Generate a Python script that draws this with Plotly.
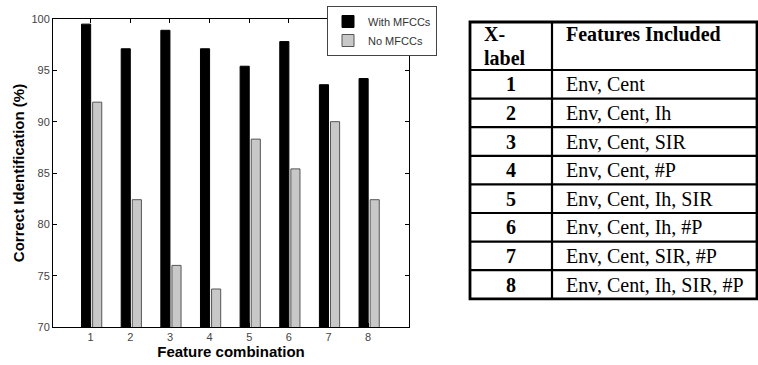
import plotly.graph_objects as go

# ---- data ----
combos = [1, 2, 3, 4, 5, 6, 7, 8]
with_mfcc = [99.5, 97.1, 98.9, 97.1, 95.4, 97.8, 93.6, 94.2]
no_mfcc = [91.9, 82.4, 76.0, 73.7, 88.3, 85.4, 90.0, 82.4]
series_names = ["With MFCCs", "No MFCCs"]

table_header = ["X-", "label", "Features Included"]
table_labels = ["1", "2", "3", "4", "5", "6", "7", "8"]
table_features = [
    "Env, Cent",
    "Env, Cent, Ih",
    "Env, Cent, SIR",
    "Env, Cent, #P",
    "Env, Cent, Ih, SIR",
    "Env, Cent, Ih, #P",
    "Env, Cent, SIR, #P",
    "Env, Cent, Ih, SIR, #P",
]

W, H = 758, 365

fig = go.Figure()
fig.add_trace(go.Bar(
    x=combos, y=with_mfcc, name=series_names[0],
    offset=-0.23, width=0.23,
    marker=dict(color="black", line=dict(color="black", width=1)),
))
fig.add_trace(go.Bar(
    x=combos, y=no_mfcc, name=series_names[1],
    offset=0.05, width=0.23,
    marker=dict(color="#c8c8c8", line=dict(color="#555555", width=1)),
))

# ---- table (drawn with paper-space shapes and text) ----
def px(x):
    return x / W

def py(y):
    return 1 - y / H

T_LEFT, T_RIGHT, T_DIV = 470, 757, 552
T_TOP, HDR_BOT, ROW_H = 22, 70, 28.6
T_BOT = HDR_BOT + ROW_H * len(table_labels)
LW = 2.2
shapes = []
shapes.append(dict(type="rect", xref="paper", yref="paper",
                   x0=px(T_LEFT), x1=px(T_RIGHT), y0=py(T_BOT), y1=py(T_TOP),
                   line=dict(color="black", width=LW + 0.6)))
shapes.append(dict(type="line", xref="paper", yref="paper",
                   x0=px(T_DIV), x1=px(T_DIV), y0=py(T_BOT), y1=py(T_TOP),
                   line=dict(color="black", width=LW)))
for i in range(len(table_labels)):
    yl = HDR_BOT + ROW_H * i
    shapes.append(dict(type="line", xref="paper", yref="paper",
                       x0=px(T_LEFT), x1=px(T_RIGHT), y0=py(yl), y1=py(yl),
                       line=dict(color="black", width=LW)))

TFS = 20
tfont_b = dict(family="Liberation Serif", size=TFS, color="black")
annotations = []
annotations.append(dict(text="<b>" + table_header[0] + "</b>", xref="paper", yref="paper",
                        x=px(T_LEFT + 12), y=py(34), xanchor="left", yanchor="middle",
                        showarrow=False, font=tfont_b))
annotations.append(dict(text="<b>" + table_header[1] + "</b>", xref="paper", yref="paper",
                        x=px(T_LEFT + 12), y=py(58), xanchor="left", yanchor="middle",
                        showarrow=False, font=tfont_b))
annotations.append(dict(text="<b>" + table_header[2] + "</b>", xref="paper", yref="paper",
                        x=px(T_DIV + 12), y=py(34), xanchor="left", yanchor="middle",
                        showarrow=False, font=tfont_b))
for i, (lab, feat) in enumerate(zip(table_labels, table_features)):
    yc = HDR_BOT + ROW_H * (i + 0.5)
    annotations.append(dict(text="<b>" + lab + "</b>", xref="paper", yref="paper",
                            x=px((T_LEFT + T_DIV) / 2), y=py(yc), xanchor="center", yanchor="middle",
                            showarrow=False, font=tfont_b))
    annotations.append(dict(text=feat, xref="paper", yref="paper",
                            x=px(T_DIV + 12), y=py(yc), xanchor="left", yanchor="middle",
                            showarrow=False, font=dict(family="Liberation Serif", size=TFS, color="black")))

axis_common = dict(
    showline=True, linecolor="black", linewidth=1, mirror="ticks",
    ticks="inside", ticklen=4, tickcolor="black",
    showgrid=False, zeroline=False, automargin=False,
    tickfont=dict(family="Arial", size=11, color="#444444"),
)

fig.update_layout(
    width=W, height=H,
    margin=dict(l=0, r=0, t=0, b=0, autoexpand=False),
    paper_bgcolor="white", plot_bgcolor="white",
    showlegend=True,
    barmode="overlay",
    shapes=shapes,
    annotations=annotations,
    xaxis=dict(
        domain=[53 / W, 409 / W], range=[0.05, 9.03],
        tickmode="array", tickvals=combos, ticktext=[str(c) for c in combos],
        title=dict(text="<b>Feature combination</b>", standoff=4,
                   font=dict(family="Arial", size=15, color="black")),
        **axis_common,
    ),
    yaxis=dict(
        domain=[1 - 327 / H, 1 - 19 / H], range=[70, 100],
        tickmode="array", tickvals=[70, 75, 80, 85, 90, 95, 100],
        title=dict(text="<b>Correct Identification (%)</b>", standoff=3,
                   font=dict(family="Arial", size=15, color="black")),
        **axis_common,
    ),
    legend=dict(
        x=327 / W, y=1 - 6 / H, xanchor="left", yanchor="top",
        bgcolor="white", bordercolor="#444444", borderwidth=1,
        font=dict(family="Arial", size=11, color="#333333"),
        tracegroupgap=0, itemwidth=30,
    ),
)

fig.write_html("out.html", config={"displayModeBar": False},
               post_script="document.body.style.margin='0';document.body.style.padding='0';")
